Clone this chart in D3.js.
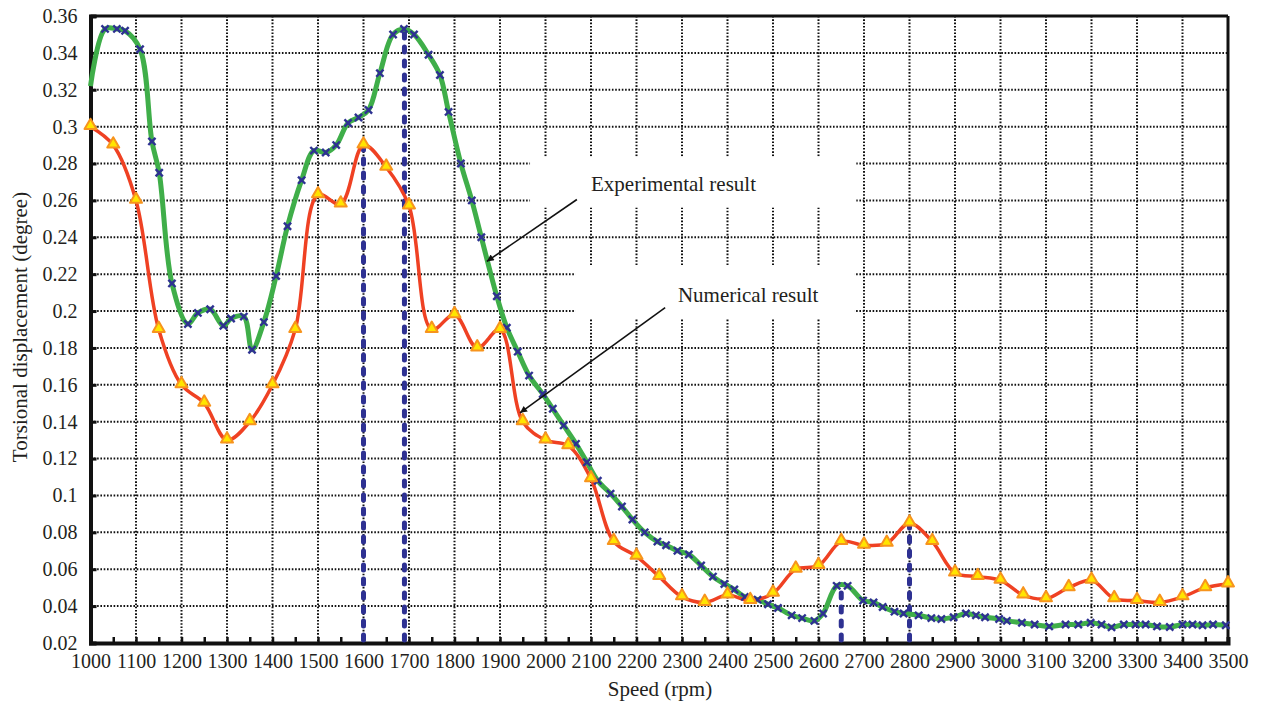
<!DOCTYPE html>
<html>
<head>
<meta charset="utf-8">
<script src="https://cdn.jsdelivr.net/npm/d3@7"></script>
<style>
  html, body { margin: 0; padding: 0; background: #fff; }
  svg { display: block; }
  text { font-family: "Liberation Serif", "Times New Roman", serif; fill: #231f20; }
</style>
</head>
<body>
<svg id="chart" width="1261" height="708"></svg>
<script>
// Experimental result (measured speeds, rpm) and torsional displacement (degree)
const expSpeed = [1000,1032,1058,1076,1109,1135,1151,1179,1214,1236,1263,1292,1309,1337,1355,1381,1408,1433,1464,1491,1517,1540,1566,1589,1611,1636,1665,1689,1711,1743,1768,1787,1814,1838,1859,1893,1915,1939,1964,1994,2016,2040,2067,2091,2115,2143,2168,2191,2218,2246,2265,2290,2315,2342,2368,2393,2415,2438,2466,2489,2511,2541,2564,2591,2610,2640,2664,2698,2721,2741,2767,2787,2820,2848,2870,2897,2924,2946,2966,2997,3014,3047,3075,3107,3143,3171,3198,3222,3244,3271,3297,3319,3344,3372,3400,3422,3444,3467,3495];
const expDisp = [0.322,0.353,0.353,0.352,0.342,0.292,0.275,0.215,0.193,0.199,0.201,0.192,0.196,0.197,0.179,0.194,0.219,0.246,0.271,0.287,0.286,0.290,0.302,0.305,0.309,0.329,0.350,0.353,0.350,0.339,0.328,0.308,0.280,0.260,0.240,0.208,0.191,0.178,0.165,0.155,0.147,0.138,0.128,0.118,0.108,0.101,0.094,0.087,0.080,0.075,0.073,0.070,0.068,0.062,0.056,0.052,0.049,0.045,0.0435,0.041,0.039,0.035,0.0335,0.032,0.036,0.051,0.051,0.043,0.042,0.0395,0.037,0.036,0.035,0.0335,0.033,0.034,0.036,0.035,0.034,0.033,0.032,0.031,0.030,0.029,0.030,0.030,0.031,0.030,0.0285,0.030,0.030,0.030,0.029,0.0287,0.030,0.030,0.0296,0.030,0.0296];

// Numerical result, every 50 rpm
const numSpeed = [1000,1050,1100,1150,1200,1250,1300,1350,1400,1450,1500,1550,1600,1650,1700,1750,1800,1850,1900,1950,2000,2050,2100,2150,2200,2250,2300,2350,2400,2450,2500,2550,2600,2650,2700,2750,2800,2850,2900,2950,3000,3050,3100,3150,3200,3250,3300,3350,3400,3450,3500];
const numDisp = [0.300,0.290,0.260,0.190,0.160,0.150,0.130,0.140,0.160,0.190,0.263,0.258,0.290,0.278,0.257,0.190,0.198,0.180,0.190,0.140,0.130,0.127,0.109,0.075,0.067,0.056,0.045,0.042,0.046,0.043,0.047,0.060,0.062,0.075,0.073,0.074,0.085,0.075,0.058,0.056,0.054,0.046,0.044,0.050,0.054,0.044,0.043,0.042,0.045,0.050,0.052];

// Resonance markers (vertical dashed lines)
const peakSpeed = [1600, 1690, 2650, 2800];
const peakDisp = [0.290, 0.354, 0.051, 0.085];

// Axis ticks
const xTicks = d3.range(1000, 3501, 100);
const xMinorTicks = d3.range(1000, 3501, 50);
const yTicks = d3.range(0.02, 0.3601, 0.02).map(v => +v.toFixed(2));

const svg = d3.select("#chart");
const plotL = 90.5, plotR = 1228, plotT = 16, plotB = 643;

const x = d3.scaleLinear().domain([1000, 3500]).range([plotL, plotR]);
const y = d3.scaleLinear().domain([0.02, 0.36]).range([plotB, plotT]);

// Dotted grid
const grid = svg.append("g");
grid.selectAll("line.v").data(xTicks.slice(1, -1)).join("line")
  .attr("x1", d => x(d)).attr("x2", d => x(d))
  .attr("y1", plotT).attr("y2", plotB)
  .attr("stroke", "#111").attr("stroke-width", 2).attr("stroke-dasharray", "1.6 1.7");
grid.selectAll("line.h").data(yTicks.slice(1, -1)).join("line")
  .attr("y1", d => y(d)).attr("y2", d => y(d))
  .attr("x1", plotL).attr("x2", plotR)
  .attr("stroke", "#111").attr("stroke-width", 2).attr("stroke-dasharray", "1.6 1.7");

// White label backgrounds (in data coordinates)
const boxes = [
  {x0: 1966, x1: 2683, y0: 0.2839, y1: 0.2562},
  {x0: 2065, x1: 2680, y0: 0.2247, y1: 0.1959}
];
svg.append("g").selectAll("rect").data(boxes).join("rect")
  .attr("x", d => x(d.x0)).attr("y", d => y(d.y0))
  .attr("width", d => x(d.x1) - x(d.x0)).attr("height", d => y(d.y1) - y(d.y0))
  .attr("fill", "#fff");

// Plot frame (top and right)
svg.append("line").attr("x1", plotL).attr("x2", plotR).attr("y1", plotT).attr("y2", plotT)
  .attr("stroke", "#111").attr("stroke-width", 3);
svg.append("line").attr("x1", plotR).attr("x2", plotR).attr("y1", plotT).attr("y2", plotB)
  .attr("stroke", "#111").attr("stroke-width", 3);

// Axes
const xAxis = svg.append("g").attr("transform", `translate(0,${plotB})`)
  .call(d3.axisBottom(x).tickValues(xMinorTicks).tickSize(-6).tickPadding(11)
    .tickFormat(d => d % 100 === 0 ? d : ""));
xAxis.select(".domain").attr("stroke", "#111").attr("stroke-width", 4);
xAxis.selectAll(".tick line").attr("stroke", "#111").attr("stroke-width", 2.5);
xAxis.selectAll(".tick text").attr("font-size", 20).attr("dy", "0.7em")
  .style("font-family", "'Liberation Serif', serif").attr("fill", "#231f20");

const yAxis = svg.append("g").attr("transform", `translate(${plotL},0)`)
  .call(d3.axisLeft(y).tickValues(yTicks).tickSize(-6).tickPadding(13)
    .tickFormat(d => String(+d.toFixed(2))));
yAxis.select(".domain").attr("stroke", "#111").attr("stroke-width", 4);
yAxis.selectAll(".tick line").attr("stroke", "#111").attr("stroke-width", 3);
yAxis.selectAll(".tick text").attr("font-size", 20)
  .style("font-family", "'Liberation Serif', serif").attr("fill", "#231f20");

// Resonance dashed lines
svg.append("g").selectAll("line").data(peakSpeed).join("line")
  .attr("x1", d => x(d)).attr("x2", d => x(d))
  .attr("y1", plotB - 3).attr("y2", (d, i) => y(peakDisp[i]))
  .attr("stroke", "#2e3192").attr("stroke-width", 5)
  .attr("stroke-linecap", "round").attr("stroke-dasharray", "5 9");

const curve = d3.curveCatmullRom.alpha(0.5);

// Experimental curve
const expData = expSpeed.map((s, i) => [s, expDisp[i]]);
svg.append("path").datum(expData)
  .attr("d", d3.line().x(d => x(d[0])).y(d => y(d[1])).curve(curve))
  .attr("fill", "none").attr("stroke", "#3fae49").attr("stroke-width", 5);

// Numerical curve
const numData = numSpeed.map((s, i) => [s, numDisp[i]]);
svg.append("path").datum(numData)
  .attr("d", d3.line().x(d => x(d[0])).y(d => y(d[1])).curve(curve))
  .attr("fill", "none").attr("stroke", "#ef4123").attr("stroke-width", 3.5);

// Experimental markers (x)
const xm = 3.6;
svg.append("g").selectAll("path").data(expData.slice(1)).join("path")
  .attr("transform", d => `translate(${x(d[0])},${y(d[1])})`)
  .attr("d", `M${-xm},${-xm}L${xm},${xm}M${-xm},${xm}L${xm},${-xm}`)
  .attr("stroke", "#2e3192").attr("stroke-width", 2.4).attr("fill", "none");

// Numerical markers (triangles)
const tri = d3.symbol().type(d3.symbolTriangle).size(62);
svg.append("g").selectAll("path").data(numData).join("path")
  .attr("transform", d => `translate(${x(d[0])},${y(d[1]) - 1})`)
  .attr("d", tri)
  .attr("fill", "#ffe500").attr("stroke", "#f7941d").attr("stroke-width", 2)
  .attr("stroke-linejoin", "round");

// Annotations
svg.append("defs").append("marker").attr("id", "arrow")
  .attr("viewBox", "0 0 10 10").attr("refX", 10).attr("refY", 5)
  .attr("markerWidth", 9).attr("markerHeight", 7).attr("markerUnits", "userSpaceOnUse")
  .attr("orient", "auto")
  .append("path").attr("d", "M0,0L10,5L0,10z").attr("fill", "#111");

const notes = [
  {text: "Experimental result", tx: 2100, ty: 0.2649, ax0: 2069, ay0: 0.2605, ax1: 1871, ay1: 0.2269},
  {text: "Numerical result", tx: 2291, ty: 0.2051, ax0: 2263, ay0: 0.2019, ax1: 1944, ay1: 0.1448}
];
svg.append("g").selectAll("text").data(notes).join("text")
  .attr("x", d => x(d.tx)).attr("y", d => y(d.ty))
  .attr("font-size", 21).text(d => d.text);
svg.append("g").selectAll("line").data(notes).join("line")
  .attr("x1", d => x(d.ax0)).attr("y1", d => y(d.ay0))
  .attr("x2", d => x(d.ax1)).attr("y2", d => y(d.ay1))
  .attr("stroke", "#111").attr("stroke-width", 1.6).attr("marker-end", "url(#arrow)");

// Axis titles
svg.append("text").attr("x", 660).attr("y", 696)
  .attr("text-anchor", "middle").attr("font-size", 21).text("Speed (rpm)");
svg.append("text").attr("transform", "translate(27,327) rotate(-90)")
  .attr("text-anchor", "middle").attr("font-size", 21).text("Torsional displacement (degree)");
</script>
</body>
</html>
